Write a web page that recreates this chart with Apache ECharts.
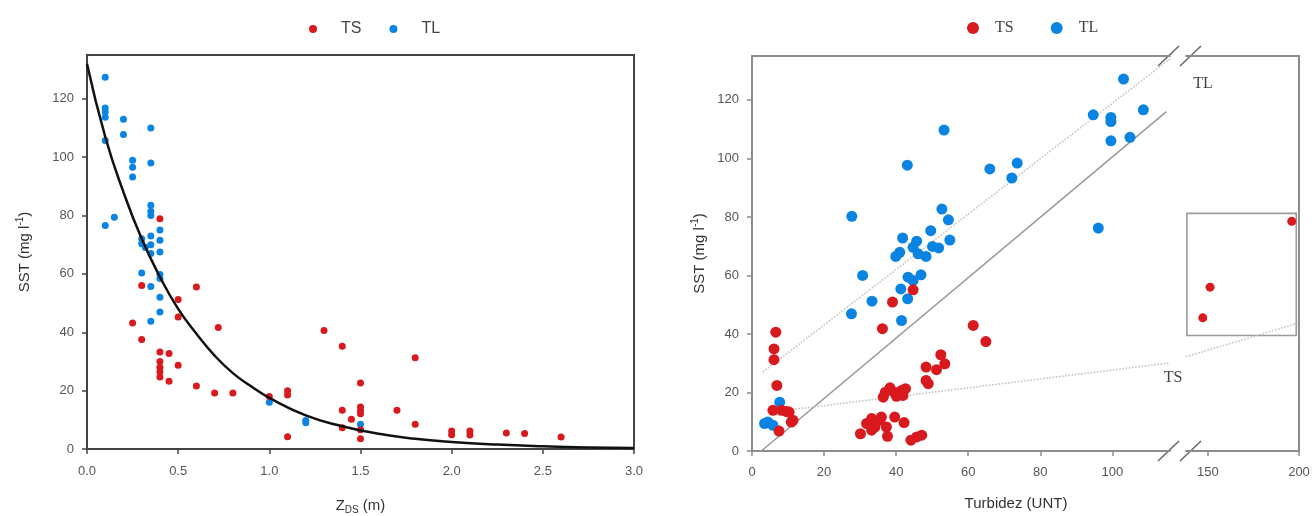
<!DOCTYPE html>
<html><head><meta charset="utf-8">
<script src="https://cdn.jsdelivr.net/npm/echarts@6/dist/echarts.min.js"></script>
<style>html,body{margin:0;padding:0;background:#fff}#c{width:1312px;height:516px}</style>
</head><body><div id="c"></div>
<script>
// ---------- data ----------
const zdsTicks = [0, 0.5, 1, 1.5, 2, 2.5, 3];
const sstTicks = [0, 20, 40, 60, 80, 100, 120];
const turbTicksA = [0, 20, 40, 60, 80, 100];
const turbTicksB = [150, 200];

// left panel: Z_DS (m) vs SST
const leftTL = [[0.1,127.4],[0.1,116.8],[0.1,115.5],[0.1,113.7],[0.1,105.7],[0.1,76.6],[0.15,79.4],[0.2,113],[0.2,107.8],
  [0.25,98.9],[0.25,96.5],[0.25,93.2],[0.35,110],[0.35,98],[0.35,83.5],[0.35,81.5],[0.35,80],[0.4,75],[0.4,71.5],[0.4,67.5],
  [0.3,72],[0.3,70.3],[0.32,69],[0.35,73],[0.35,70],[0.35,67],[0.3,60.3],[0.4,59.8],[0.4,58.4],[0.35,55.7],[0.4,52],
  [0.4,46.9],[0.35,43.8],[1.0,16],[1.2,9.8],[1.2,9],[1.5,8.5]];
const leftTS = [[0.4,78.9],[0.3,56],[0.25,43.2],[0.3,37.5],[0.4,33.2],[0.45,32.7],[0.4,30],[0.4,28],[0.4,26.5],[0.4,24.7],
  [0.45,23.2],[0.5,28.7],[0.5,51.2],[0.5,45.2],[0.6,55.5],[0.6,21.6],[0.72,41.6],[0.7,19.2],[0.8,19.2],[1.0,18],[1.1,20],
  [1.1,18.5],[1.1,4.2],[1.3,40.6],[1.4,35.2],[1.4,13.3],[1.4,7.3],[1.45,10.2],[1.5,22.6],[1.5,14.4],[1.5,13.2],[1.5,12.1],
  [1.5,6.6],[1.5,3.5],[1.7,13.3],[1.8,31.3],[1.8,8.5],[2.0,6.2],[2.0,4.9],[2.1,6.2],[2.1,4.8],[2.3,5.5],[2.4,5.3],[2.6,4.1]];
const fitCurve = [[0,132],[0.1,107],[0.2,88],[0.3,72],[0.4,59],[0.5,48],[0.6,39.5],[0.7,32],[0.8,26],[0.9,21.5],[1.0,17.5],
  [1.2,11.5],[1.4,7.8],[1.6,5.2],[1.8,3.5],[2.0,2.4],[2.25,1.5],[2.5,0.9],[2.75,0.5],[3.0,0.3]];

// right panel: Turbidez (UNT) vs SST
const rightTL = [[53.3,109.7],[43.1,97.7],[66,96.4],[73.6,98.4],[72.1,93.3],[27.7,80.2],[52.7,82.7],[54.5,79],[49.6,75.3],
  [41.8,72.8],[54.9,72.1],[45.7,71.7],[44.7,69.6],[50.1,69.9],[51.8,69.4],[41,67.9],[39.9,66.5],[46.1,67.4],[48.3,66.5],
  [30.7,60],[43.3,59.4],[44.7,58.3],[46.9,60.2],[41.3,55.4],[43.2,52],[33.3,51.2],[27.6,46.9],[41.5,44.6],[103.1,127.1],
  [94.7,114.9],[99.6,114],[99.6,112.6],[108.6,116.6],[99.6,106],[104.9,107.2],[96.1,76.2],[7.7,16.7],[4.4,9.9],[5.8,8.8],[3.5,9.4]];
const rightTS = [[44.7,55.1],[39,50.9],[36.2,41.8],[61.4,42.9],[64.9,37.4],[52.4,32.9],[53.5,29.8],[51.2,27.8],[48.3,28.7],
  [48.3,24.1],[48.9,23],[37,20.1],[38.3,21.6],[39.4,20.1],[40.1,18.7],[41.5,20.7],[42.6,21.3],[41.9,19],[36.4,18.4],[30.1,5.9],
  [31.8,9.4],[33.2,11.1],[34.1,8.2],[33.2,7.1],[35.5,10.5],[37.3,8.2],[37.6,5],[35.9,11.6],[39.6,11.6],[42.2,9.7],[44.1,3.7],
  [45.7,4.8],[47.1,5.4],[6.6,40.6],[6.1,34.9],[6.1,31.2],[6.9,22.4],[5.8,13.9],[8.2,13.9],[10.3,13.3],[10.9,9.9],[7.5,6.8],
  [9.6,13.5],[11.4,10.5]];
const rightTSBreak = [[196,78.5],[151.2,56],[147.2,45.5]];
const lineOneToOne = [[2.6,0],[115,116]];
const lineTL = [[3,27],[116,134]];
const lineTS = [[12,14.3],[116,30.1]];
const lineTSBreak = [[138,32.2],[200,43.8]];
const insetBox = [[138.5,81.2],[198.5,39.5]];

// ---------- styles ----------
const RED = '#d8191e', BLUE = '#0a84e3';
const SANS = 'Liberation Sans', SERIF = 'Liberation Serif';
const LF = '#444', RF = '#8c8c8c';
const G0 = {left: 87, top: 55, width: 547, height: 394, outerBoundsMode: 'none', containLabel: false};
const G1 = {left: 752, top: 56, width: 418, height: 395, outerBoundsMode: 'none', containLabel: false};
const G2 = {left: 1186, top: 56, width: 113, height: 395, outerBoundsMode: 'none', containLabel: false};

const lbl = {color: '#555', fontFamily: SANS, fontSize: 13};
const nameRich = {
  sup: {fontSize: 10, fontFamily: SANS, color: '#333', padding: [0, 0, 9, 0]},
  sub: {fontSize: 10, fontFamily: SANS, color: '#333', padding: [9, 0, 0, 0]}
};
const nameStyle = {fontFamily: SANS, fontSize: 15, color: '#333', rich: nameRich};

const chart = echarts.init(document.getElementById('c'), null, {renderer: 'canvas'});

const frameAxis = (gi, pos, color) => ({
  gridIndex: gi, type: 'value', position: pos, min: 0, max: 1,
  axisLine: {show: true, onZero: false, lineStyle: {color, width: 2}}, axisTick: {show: false}, axisLabel: {show: false}, splitLine: {show: false}
});

const option = {
  animation: false,
  backgroundColor: '#fff',
  grid: [
    Object.assign({show: true, borderColor: LF, borderWidth: 2}, G0),
    Object.assign({}, G1),
    Object.assign({}, G2)
  ],
  legend: [
    {data: ['TS', 'TL'], left: 304, top: 16, icon: 'circle', itemWidth: 8, itemHeight: 8, itemGap: 28,
     textStyle: {fontFamily: SANS, fontSize: 16, color: '#444', padding: [0, 0, 0, 19]}},
    {data: ['TS', 'TL'], left: 962, top: 15, icon: 'circle', itemWidth: 12, itemHeight: 12, itemGap: 37,
     textStyle: {fontFamily: SERIF, fontSize: 16, color: '#444', padding: [0, 0, 0, 11]}}
  ],
  xAxis: [
    {gridIndex: 0, type: 'value', min: 0, max: 3, interval: 0.5,
     name: 'Z{sub|DS} (m)', nameLocation: 'middle', nameGap: 47, nameTextStyle: nameStyle,
     axisLine: {onZero: false, lineStyle: {color: LF, width: 2}}, axisTick: {length: 5, lineStyle: {color: LF, width: 1.5}},
     axisLabel: Object.assign({margin: 16, formatter: v => v.toFixed(1)}, lbl), splitLine: {show: false}},
    {gridIndex: 1, type: 'value', min: 0, max: 116,
     name: 'Turbidez (UNT)', nameLocation: 'middle', nameGap: 45,
     nameTextStyle: Object.assign({}, nameStyle, {padding: [0, 0, 0, 110]}),
     axisLine: {onZero: false, lineStyle: {color: RF, width: 2}}, axisTick: {length: 5, customValues: turbTicksA, lineStyle: {color: RF, width: 1.5}},
     axisLabel: Object.assign({margin: 15, customValues: turbTicksA}, lbl), splitLine: {show: false}},
    frameAxis(1, 'top', RF),
    {gridIndex: 2, type: 'value', min: 138, max: 200,
     axisLine: {onZero: false, lineStyle: {color: RF, width: 2}}, axisTick: {length: 5, customValues: turbTicksB, lineStyle: {color: RF, width: 1.5}},
     axisLabel: Object.assign({margin: 15, customValues: turbTicksB}, lbl), splitLine: {show: false}},
    frameAxis(2, 'top', RF)
  ],
  yAxis: [
    {gridIndex: 0, type: 'value', min: 0, max: 135,
     name: 'SST (mg l{sup|-1})', nameLocation: 'middle', nameGap: 53, nameRotate: 90, nameTextStyle: nameStyle,
     axisLine: {onZero: false, lineStyle: {color: LF, width: 2}}, axisTick: {length: 5, customValues: sstTicks, lineStyle: {color: LF, width: 1.5}},
     axisLabel: Object.assign({margin: 13, customValues: sstTicks}, lbl), splitLine: {show: false}},
    {gridIndex: 1, type: 'value', min: 0, max: 135,
     name: 'SST (mg l{sup|-1})', nameLocation: 'middle', nameGap: 43, nameRotate: 90, nameTextStyle: nameStyle,
     axisLine: {onZero: false, lineStyle: {color: RF, width: 2}}, axisTick: {length: 5, customValues: sstTicks, lineStyle: {color: RF, width: 1.5}},
     axisLabel: Object.assign({margin: 13, customValues: sstTicks}, lbl), splitLine: {show: false}},
    {gridIndex: 2, type: 'value', min: 0, max: 135, position: 'right',
     axisLine: {show: true, onZero: false, lineStyle: {color: RF, width: 2}}, axisTick: {show: false}, axisLabel: {show: false}, splitLine: {show: false}}
  ],
  series: [
    // left panel
    {name: 'TL', type: 'scatter', xAxisIndex: 0, yAxisIndex: 0, data: leftTL, symbolSize: 7, itemStyle: {color: BLUE, opacity: 1}, z: 2},
    {name: 'TS', type: 'scatter', xAxisIndex: 0, yAxisIndex: 0, data: leftTS, symbolSize: 7, itemStyle: {color: RED, opacity: 1}, z: 3},
    {name: 'fit', type: 'line', xAxisIndex: 0, yAxisIndex: 0, data: fitCurve, smooth: true, showSymbol: false,
     lineStyle: {color: '#111', width: 2.5}, z: 5, silent: true},
    // right panel lines
    {name: 'l11', type: 'line', xAxisIndex: 1, yAxisIndex: 1, data: lineOneToOne, showSymbol: false,
     lineStyle: {color: '#9a9a9a', width: 1.6}, z: 1, silent: true},
    {name: 'lTL', type: 'line', xAxisIndex: 1, yAxisIndex: 1, data: lineTL, showSymbol: false,
     lineStyle: {color: '#c4c4c4', width: 1.6, type: 'dotted'}, z: 1, silent: true},
    {name: 'lTS', type: 'line', xAxisIndex: 1, yAxisIndex: 1, data: lineTS, showSymbol: false,
     lineStyle: {color: '#c4c4c4', width: 1.6, type: 'dotted'}, z: 1, silent: true},
    {name: 'lTS2', type: 'line', xAxisIndex: 3, yAxisIndex: 2, data: lineTSBreak, showSymbol: false,
     lineStyle: {color: '#c4c4c4', width: 1.6, type: 'dotted'}, z: 1, silent: true},
    // right panel points
    {name: 'TL', type: 'scatter', xAxisIndex: 1, yAxisIndex: 1, data: rightTL, symbolSize: 11, itemStyle: {color: BLUE, opacity: 1}, z: 2},
    {name: 'TS', type: 'scatter', xAxisIndex: 1, yAxisIndex: 1, data: rightTS, symbolSize: 11, itemStyle: {color: RED, opacity: 1}, z: 3},
    {name: 'TS', type: 'scatter', xAxisIndex: 3, yAxisIndex: 2, data: rightTSBreak, symbolSize: 9, itemStyle: {color: RED, opacity: 1}, z: 3,
     markArea: {silent: true, itemStyle: {color: 'rgba(0,0,0,0)', borderColor: '#9a9a9a', borderWidth: 1.6},
       data: [[{coord: insetBox[0]}, {coord: insetBox[1]}]]}}
  ]
};
chart.setOption(option);

// axis-break slashes and regression labels (decorations)
const bx1 = G1.left + G1.width - 12, bx2 = G2.left - 6;
const yTop = G1.top, yBot = G1.top + G1.height;
const slash = (x, y) => ({type: 'line', silent: true, shape: {x1: x, y1: y + 10, x2: x + 21, y2: y - 10},
  style: {stroke: '#666', lineWidth: 1.5}});
const pTL = chart.convertToPixel({xAxisIndex: 3, yAxisIndex: 2}, [147.3, 125.5]);
const pTS = chart.convertToPixel({xAxisIndex: 3, yAxisIndex: 2}, [130.9, 24.9]);
chart.setOption({graphic: [
  {type: 'rect', silent: true, shape: {x: G1.left + G1.width + 1, y: yTop - 3, width: G2.left - G1.left - G1.width - 2, height: 6}, style: {fill: '#fff'}},
  {type: 'rect', silent: true, shape: {x: G1.left + G1.width + 1, y: yBot - 3, width: G2.left - G1.left - G1.width - 2, height: 6}, style: {fill: '#fff'}},
  slash(bx1, yTop), slash(bx2, yTop), slash(bx1, yBot), slash(bx2, yBot),
  {type: 'text', silent: true, x: pTL[0], y: pTL[1], style: {text: 'TL', font: '16px ' + SERIF, fill: '#444', align: 'center', verticalAlign: 'middle'}},
  {type: 'text', silent: true, x: pTS[0], y: pTS[1], style: {text: 'TS', font: '16px ' + SERIF, fill: '#444', align: 'center', verticalAlign: 'middle'}}
]});
</script>
</body></html>
